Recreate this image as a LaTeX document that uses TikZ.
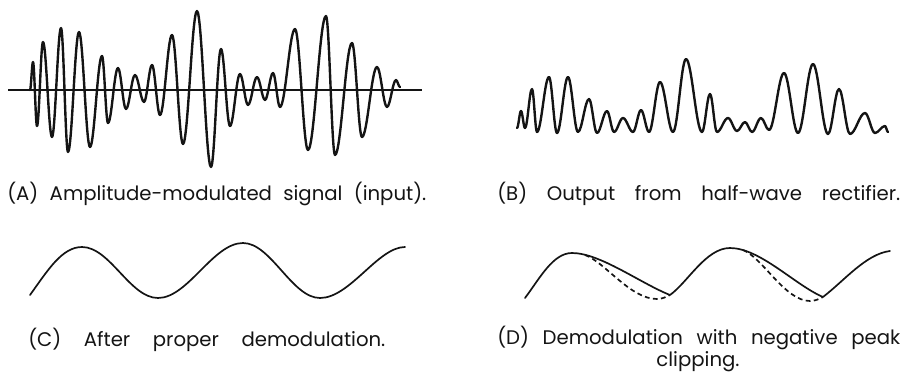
\documentclass[tikz,border=0pt]{standalone}
\usepackage{fontspec}
\setmainfont{Poppins}
\usepackage{tikz}
\definecolor{ink}{HTML}{141414}
\tikzset{
  wave/.style={ink,line width=1.7pt,line join=round,line cap=round},
  thinwave/.style={ink,line width=1.2pt,line join=round,line cap=round},
  axis/.style={ink,line width=1pt},
  dsh/.style={thinwave,line cap=butt,dash pattern=on 3.4pt off 2.4pt},
  captxt/.style={font=\fontsize{14}{17}\selectfont,inner sep=0pt,anchor=base west,text=ink}
}
\begin{document}
\begin{tikzpicture}[x=0.025cm,y=-0.025cm]
\useasboundingbox (0,0) rectangle (903,377);
% (A) modulated input
\draw[axis] (8,90) -- (422,90);
\draw[wave] (30,90) \foreach \x/\y [remember=\x as \px (initially 30),remember=\y as \py (initially 90)] in
  {33/62,37/126,43/42,52/137,61/28,68/152,79/32,90/147,102/56,108/123,118/68,126/109,
   135/75,144/102,152/65,160/115,172/35,183/144,197/11,211/167,221/49,230/126,240/74,
   248/105,257/77,265/100,273/73,280/107,295/29,308/150,326/16,335/155,352/43,362/137,
   377/67,387/107,396/80,400/87}
  { .. controls ({\px+0.36*(\x-\px)},\py) and ({\x-0.36*(\x-\px)},\y) .. (\x,\y) };
\node[captxt] (capA) at (7,200) {\makebox[10.475cm][s]{(A) Amplitude-modulated signal (input).}};
% (B) rectifier output
\draw[wave] (517,128) \foreach \x/\y [remember=\x as \px (initially 517),remember=\y as \py (initially 128)] in
  {521/111,525/128,532/89,537/132,549/77,557/133,568/77,578/132,589/99,597/133,607/111,
   614/132,623/118,633/132,641/110,649/132,660/82,673/132,686/59,702/132,710/94,717/132,
   728/118,737/131,745/122,752/132,761/118,769/130,784/73,798/133,813/64,828/134,839/89,
   850/134,865/113,875/133,885/126,888/132}
  { .. controls ({\px+0.36*(\x-\px)},\py) and ({\x-0.36*(\x-\px)},\y) .. (\x,\y) };
\node[captxt] (capB) at (497,200) {\makebox[10.075cm][s]{(B) Output from half-wave rectifier.}};
% (C) proper demodulation
\draw[thinwave] (30,295) .. controls (48,270) and (62,247) .. (82,247)
  .. controls (110,247) and (130,298) .. (158,298)
  .. controls (188,298) and (213,243) .. (243,243)
  .. controls (271,243) and (292,298) .. (320,298)
  .. controls (350,298) and (378,247) .. (405,247);
\node[captxt] (capC) at (28,346) {\makebox[8.925cm][s]{(C) After proper demodulation.}};
% (D) clipped demodulation
\draw[thinwave] (525,298) .. controls (540,278) and (553,253) .. (572,253)
  .. controls (600,253) and (640,283) .. (670,295)
  .. controls (688,282) and (706,248) .. (730,248)
  .. controls (760,248) and (795,285) .. (823,297)
  .. controls (845,280) and (866,254) .. (890,251);
\draw[dsh] (585,255) .. controls (605,262) and (630,299) .. (657,299)
  .. controls (662,299) and (666,297) .. (670,295);
\draw[dsh] (743,250) .. controls (763,258) and (785,301) .. (810,301)
  .. controls (815,301) and (819,299) .. (823,297);
\node[captxt] (capD) at (497,344) {\makebox[10.075cm][s]{(D) Demodulation with negative peak}};
\node[captxt,anchor=base] (capDb) at (698,366) {clipping.};
\end{tikzpicture}
\end{document}
